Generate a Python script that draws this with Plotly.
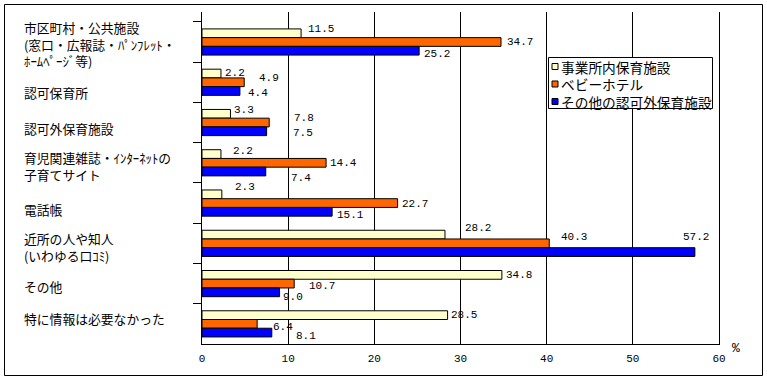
import plotly.graph_objects as go

# ---- data ----
categories = [
    "市区町村・公共施設<br>(窓口・広報誌・ﾊﾟﾝﾌﾚｯﾄ・<br>ﾎｰﾑﾍﾟｰｼﾞ等)",
    "認可保育所",
    "認可外保育施設",
    "育児関連雑誌・ｲﾝﾀｰﾈｯﾄの<br>子育てサイト",
    "電話帳",
    "近所の人や知人<br>(いわゆる口ｺﾐ)",
    "その他",
    "特に情報は必要なかった",
]
series_names = ["事業所内保育施設", "ベビーホテル", "その他の認可外保育施設"]
jigyosho = [11.5, 2.2, 3.3, 2.2, 2.3, 28.2, 34.8, 28.5]
baby_hotel = [34.7, 4.9, 7.8, 14.4, 22.7, 40.3, 10.7, 6.4]
other_ninkagai = [25.2, 4.4, 7.5, 7.4, 15.1, 57.2, 9.0, 8.1]
x_tick_values = [0, 10, 20, 30, 40, 50, 60]
unit_label = "%"

# ---- styling ----
colors = ["#FFFFCC", "#FF6600", "#0000FF"]
W, H = 767, 380
ML, MR, MT, MB = 202, 48, 12, 36
PW, PH = W - ML - MR, H - MT - MB
BARGAP = 0.35
JP = "Noto Sans CJK JP"
NUM = "Liberation Mono"

# label nudges in pixels (dx right, dy down) per series, to mimic original placement
label_dx = [
    [4.7, 2, 1.4, 10.4, 11, 18, 2.3, 1.7],
    [4, 12.7, 22.7, 2.3, 2.4, 9.7, 12.4, 14],
    [2.7, 6.4, 24.4, 23.3, 2.7, -14.3, 1, 22],
]
label_dy = [
    [-4, -0.7, -4, -3.3, -7.3, -7, 0, 0],
    [0, -4.5, -4.5, 0.5, 0.5, -6.7, 2, 3],
    [3, 2, 2, 6.3, 3.3, -15.5, 4.5, 3.7],
]
cat_dy = [2, 10, 6, 3, 6, 4, 3, -5]


def px_x(x):
    return (x - ML) / PW


def px_y(y):
    return 1 - (y - MT) / PH


series_values = [jigyosho, baby_hotel, other_ninkagai]
fig = go.Figure()
for name, vals, col in zip(series_names, series_values, colors):
    fig.add_trace(go.Bar(
        y=categories, x=vals, orientation="h", name=name,
        marker=dict(color=col, line=dict(color="black", width=1)),
        showlegend=False, hoverinfo="skip",
    ))

annotations = []
bw = (1 - BARGAP) / len(series_values)
for k, vals in enumerate(series_values):
    for i, v in enumerate(vals):
        annotations.append(dict(
            x=v, y=i + (k - 1) * bw, xref="x", yref="y",
            text=f"{v:.1f}", showarrow=False, xanchor="left", yanchor="middle",
            xshift=label_dx[k][i], yshift=-label_dy[k][i],
            font=dict(family=NUM, size=11, color="black"),
        ))

for i, c in enumerate(categories):
    annotations.append(dict(
        x=px_x(22), y=i, xref="paper", yref="y", text=c, showarrow=False,
        xanchor="left", yanchor="middle", align="left", yshift=-cat_dy[i],
        font=dict(family=JP, size=12.8, color="black"),
    ))

annotations.append(dict(
    x=px_x(736), y=px_y(348), xref="paper", yref="paper", text=unit_label,
    showarrow=False, xanchor="center", yanchor="middle",
    font=dict(family=NUM, size=13, color="black"),
))

shapes = [dict(
    type="rect", xref="paper", yref="paper",
    x0=px_x(4.5), x1=px_x(762.5), y0=px_y(4.5), y1=px_y(375.5),
    line=dict(color="black", width=1), fillcolor="rgba(0,0,0,0)", layer="above",
)]

# custom legend
lg_x0, lg_x1, lg_y0, lg_y1 = 548.5, 712.5, 57.5, 108.5
shapes.append(dict(
    type="rect", xref="paper", yref="paper",
    x0=px_x(lg_x0), x1=px_x(lg_x1), y0=px_y(lg_y0), y1=px_y(lg_y1),
    line=dict(color="black", width=1), fillcolor="white", layer="above",
))
row_y = [66.5, 84, 101.5]
for name, col, ry in zip(series_names, colors, row_y):
    shapes.append(dict(
        type="rect", xref="paper", yref="paper",
        x0=px_x(552), x1=px_x(558), y0=px_y(ry - 3), y1=px_y(ry + 3),
        line=dict(color="black", width=1), fillcolor=col, layer="above",
    ))
    annotations.append(dict(
        x=px_x(559), y=px_y(ry), xref="paper", yref="paper", text=name,
        showarrow=False, xanchor="left", yanchor="middle",
        font=dict(family=JP, size=13.7, color="black"),
    ))

fig.update_layout(
    width=W, height=H, autosize=False,
    margin=dict(l=ML, r=MR, t=MT, b=MB, pad=0),
    paper_bgcolor="white", plot_bgcolor="white",
    barmode="group", bargap=BARGAP, bargroupgap=0,
    showlegend=False,
    annotations=annotations, shapes=shapes,
    xaxis=dict(
        range=[0, 60], tickvals=x_tick_values, ticktext=[str(t) for t in x_tick_values],
        showgrid=True, gridcolor="black", gridwidth=1, zeroline=False,
        showline=True, linecolor="black", linewidth=1,
        ticks="inside", ticklen=8, tickcolor="black", tickwidth=1,
        tickfont=dict(family=NUM, size=11, color="black"),
        ticklabelstandoff=4, fixedrange=True,
    ),
    yaxis=dict(
        autorange="reversed", showgrid=False, zeroline=False,
        showline=True, linecolor="black", linewidth=1, mirror=True,
        ticks="outside", ticklen=8, tickcolor="black", tickwidth=1,
        tickson="boundaries", showticklabels=False, fixedrange=True,
    ),
)

fig.write_html(
    "out.html",
    config={"displayModeBar": False, "staticPlot": True},
    post_script="document.body.style.margin='0';document.body.style.overflow='hidden';",
)
